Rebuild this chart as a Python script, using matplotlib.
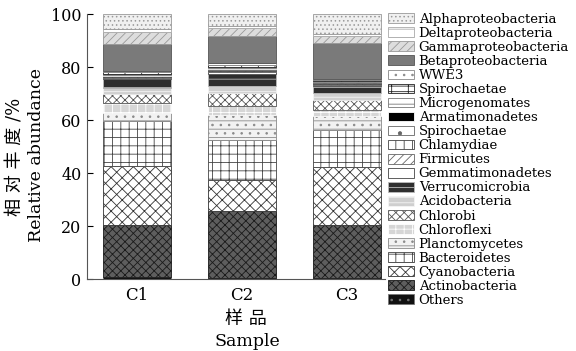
import matplotlib
matplotlib.use("Agg")
import matplotlib.pyplot as plt
import numpy as np

# samples and taxa (bottom to top in the stack)
samples = ["C1", "C2", "C3"]
taxa = ["Others", "Actinobacteria", "Cyanobacteria", "Bacteroidetes", "Planctomycetes",
        "Chloroflexi", "Chlorobi", "Acidobacteria", "Verrucomicrobia", "Gemmatimonadetes",
        "Firmicutes", "Chlamydiae", "Spirochaetae", "Armatimonadetes", "Microgenomates",
        "Spirochaetae ", "WWE3", "Betaproteobacteria", "Gammaproteobacteria",
        "Deltaproteobacteria", "Alphaproteobacteria"]

# relative abundance (%) per sample, same order as taxa
c1 = [0.8, 19.6, 22.4, 16.8, 3.0, 3.9, 3.3, 2.2, 3.4, 0.5, 0.3, 0.3, 0.3, 0.2, 0.5, 0.5, 0.5, 10.1, 4.7, 0.9, 5.8]
c2 = [0.5, 25.3, 11.6, 15.1, 9.4, 3.4, 5.0, 2.5, 4.6, 0.6, 0.4, 0.4, 0.4, 0.3, 0.7, 0.7, 0.5, 10.3, 2.9, 0.9, 4.5]
c3 = [0.5, 19.9, 22.0, 13.8, 5.4, 2.2, 3.7, 2.6, 2.8, 0.4, 0.3, 0.3, 0.3, 0.2, 0.4, 0.3, 0.3, 13.5, 2.9, 0.6, 7.6]

# (facecolor, hatch, hatch/edge color) for each taxon
styles = [
    ("#111111", "..", "#777777"),
    ("#5e5e5e", "xxxx", "#1a1a1a"),
    ("white", "xxx", "#333333"),
    ("white", "++", "#444444"),
    ("#f2f2f2", "--..", "#8a8a8a"),
    ("#d6d6d6", "++", "#ffffff"),
    ("white", "xxxx", "#555555"),
    ("#cfcfcf", "---", "#f5f5f5"),
    ("#2e2e2e", "--", "#bbbbbb"),
    ("white", "", "#444444"),
    ("white", "////", "#666666"),
    ("white", "||", "#444444"),
    ("white", ".", "#666666"),
    ("#000000", "-", "#ffffff"),
    ("white", "--", "#777777"),
    ("white", "---|", "#222222"),
    ("white", "..", "#888888"),
    ("#7a7a7a", "", "#555555"),
    ("#dddddd", "////", "#999999"),
    ("white", "--", "#aaaaaa"),
    ("#f0f0f0", "....", "#999999"),
]

plt.rcParams["hatch.linewidth"] = 0.6
serif = ["DejaVu Serif", "Noto Sans CJK SC"]

data = np.array([c1, c2, c3]).T
x = np.arange(len(samples))

fig = plt.figure(figsize=(5.76, 3.51), dpi=100)
ax = fig.add_axes([0.151, 0.205, 0.517, 0.755])

bottom = np.zeros(len(samples))
handles = []
for i, name in enumerate(taxa):
    fc, h, ec = styles[i]
    b = ax.bar(x, data[i], 0.65, bottom=bottom, color=fc, hatch=h,
               edgecolor=ec, linewidth=0.6, label=name.strip())
    handles.append(b)
    bottom += data[i]

ax.set_xlim(-0.476, 2.36)
ax.set_ylim(0, 100)
ax.set_yticks([0, 20, 40, 60, 80, 100])
ax.set_xticks(x)
ax.set_xticklabels(samples, family=serif, fontsize=12)
for t in ax.get_yticklabels():
    t.set_family(serif)
    t.set_fontsize(11.5)
ax.tick_params(axis="y", direction="in", length=4, width=0.8, pad=4)
ax.tick_params(axis="x", length=0, pad=6)
ax.spines["top"].set_visible(False)
ax.spines["right"].set_visible(False)
ax.spines["left"].set_color("#555555")
ax.spines["bottom"].set_color("#555555")

# axis titles, Chinese line and English line
fig.text(16 / 576, 1 - 157 / 351, "相 对 丰 度 /%", family=serif, fontsize=13,
         rotation=90, ha="center", va="center")
fig.text(37 / 576, 1 - 155 / 351, "Relative abundance", family=serif, fontsize=12.5,
         rotation=90, ha="center", va="center")
fig.text(246 / 576, 1 - 319 / 351, "样 品", family=serif, fontsize=13,
         ha="center", va="center")
fig.text(247 / 576, 1 - 341 / 351, "Sample", family=serif, fontsize=12.5,
         ha="center", va="center")

leg = fig.legend(handles[::-1], [t.strip() for t in taxa[::-1]],
                 loc="upper left", bbox_to_anchor=(0.657, 0.99),
                 frameon=False, prop={"family": serif, "size": 9.5},
                 handlelength=2.0, handleheight=0.75, labelspacing=0.08,
                 handletextpad=0.35, borderpad=0.2)

fig.savefig("out.png", dpi=100)
